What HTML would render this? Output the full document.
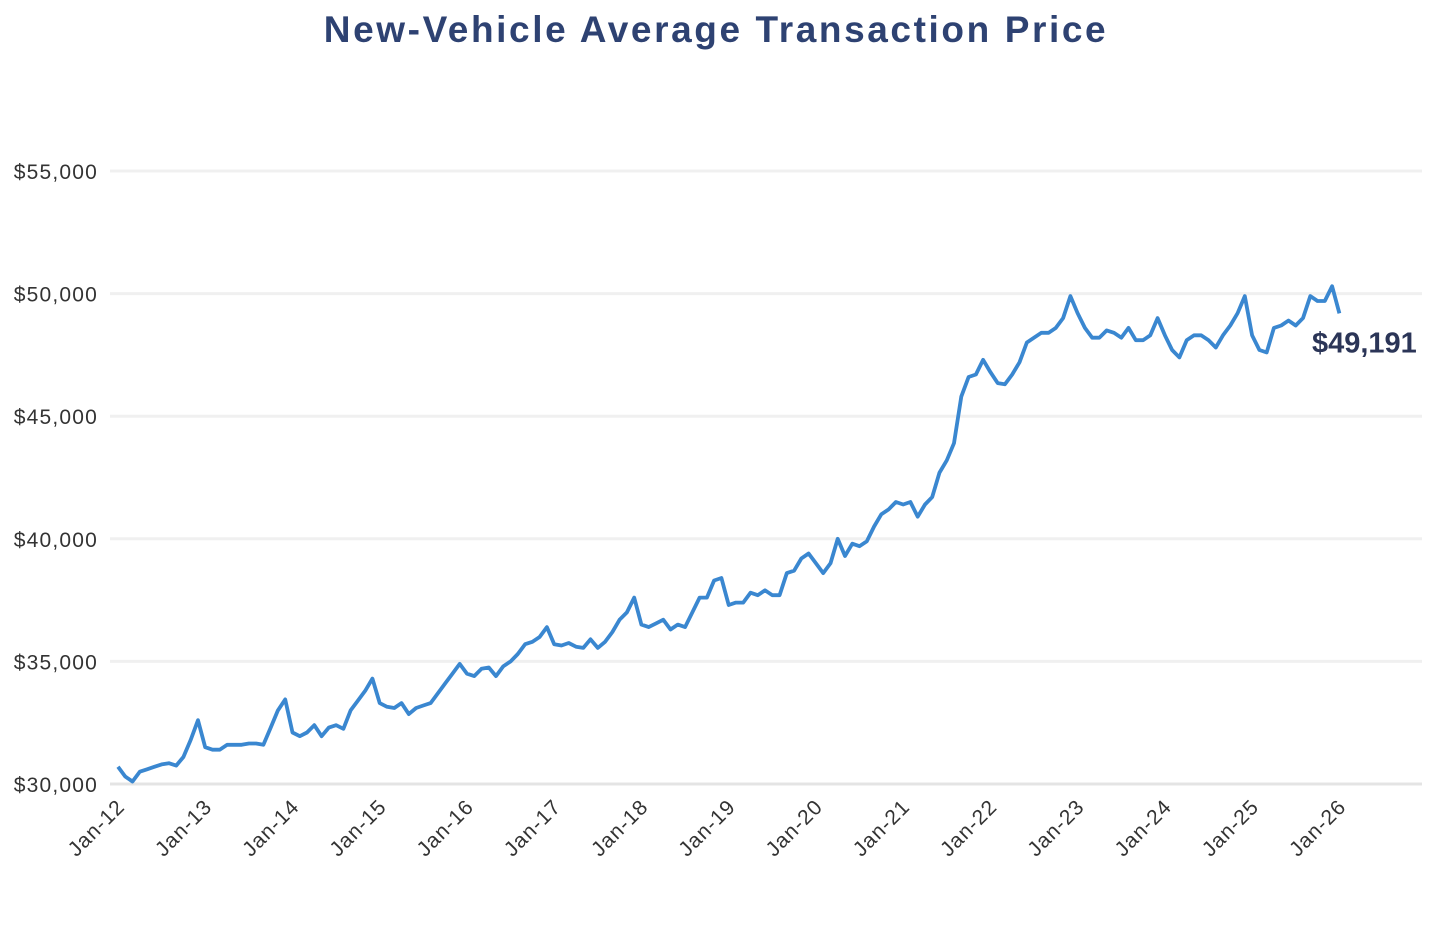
<!DOCTYPE html>
<html><head><meta charset="utf-8"><style>
html,body{margin:0;padding:0;background:#fff;}
body{width:1448px;height:924px;overflow:hidden;font-family:"Liberation Sans",sans-serif;}
</style></head><body>
<svg id="chart" width="1448" height="924" xmlns="http://www.w3.org/2000/svg">
<text x="716" y="42" text-anchor="middle" font-size="37" font-weight="bold" fill="#2e4272" font-family="Liberation Sans, sans-serif" letter-spacing="2.6">New-Vehicle Average Transaction Price</text>
<g id="grid"></g><g id="yl"></g><g id="xl"></g><g id="series"></g>
</svg>
<script>
const yTicks=[30000,35000,40000,45000,50000,55000];
const xLabels=["Jan-12","Jan-13","Jan-14","Jan-15","Jan-16","Jan-17","Jan-18","Jan-19","Jan-20","Jan-21","Jan-22","Jan-23","Jan-24","Jan-25","Jan-26"];
const prices=[
30700,30300,30100,30500,30600,30700,30800,30850,30750,31100,31800,32600,
31500,31400,31400,31600,31600,31600,31650,31650,31600,32300,33000,33450,
32100,31950,32100,32400,31950,32300,32400,32250,33000,33400,33800,34300,
33300,33150,33100,33300,32850,33100,33200,33300,33700,34100,34500,34900,
34500,34400,34700,34750,34400,34800,35000,35300,35700,35800,36000,36400,
35700,35650,35750,35600,35550,35900,35550,35800,36200,36700,37000,37600,
36500,36400,36550,36700,36300,36500,36400,37000,37600,37600,38300,38400,
37300,37400,37400,37800,37700,37900,37700,37700,38600,38700,39200,39400,
39000,38600,39000,40000,39300,39800,39700,39900,40500,41000,41200,41500,
41400,41500,40900,41400,41700,42700,43200,43900,45800,46600,46700,47300,
46800,46350,46300,46700,47200,48000,48200,48400,48400,48600,49000,49900,
49200,48600,48200,48200,48500,48400,48200,48600,48100,48100,48300,49000,
48300,47700,47400,48100,48300,48300,48100,47800,48300,48700,49200,49900,
48300,47700,47600,48600,48700,48900,48700,49000,49900,49700,49700,50300,
49191];
const lastLabel="$49,191";
const NS="http://www.w3.org/2000/svg";
const X=m=>118+m*7.27;
const Y=v=>784-(v-30000)/5000*122.6;
function mk(t,a,p){const e=document.createElementNS(NS,t);for(const k in a)e.setAttribute(k,a[k]);p.appendChild(e);return e;}
const grid=document.getElementById('grid'),yl=document.getElementById('yl'),xl=document.getElementById('xl'),sg=document.getElementById('series');
yTicks.forEach(v=>{
 const l=mk('line',{x1:110,x2:1422,y1:Y(v),y2:Y(v),stroke:v===30000?'#e4e4e4':'#f0f0f0','stroke-width':3},grid);
 
 
 const t=mk('text',{x:98,y:Y(v)+8,'text-anchor':'end','font-size':21,'letter-spacing':1.2,fill:'#333'},yl);
 t.textContent='$'+v.toLocaleString('en-US');
 
 
});
xLabels.forEach((s,i)=>{
 const x=X(i*12)+8,y=808;
 const t=mk('text',{x:x,y:y,'text-anchor':'end','font-size':21,'letter-spacing':1,fill:'#333',transform:`rotate(-45 ${x} ${y})`},xl);
 t.textContent=s;
 
 
});
const p=mk('path',{d:prices.map((v,i)=>(i?'L':'M')+X(i).toFixed(1)+','+Y(v).toFixed(1)).join(''),fill:'none',stroke:'#3a87d0','stroke-width':3.8,'stroke-linejoin':'round'},sg);


const n=prices.length-1;
const lb=mk('text',{x:X(n)+25,y:Y(prices[n])+39,'text-anchor':'middle','font-size':29,'font-weight':'bold',fill:'#2b3557'},sg);
lb.textContent=lastLabel;


</script>
</body></html>
